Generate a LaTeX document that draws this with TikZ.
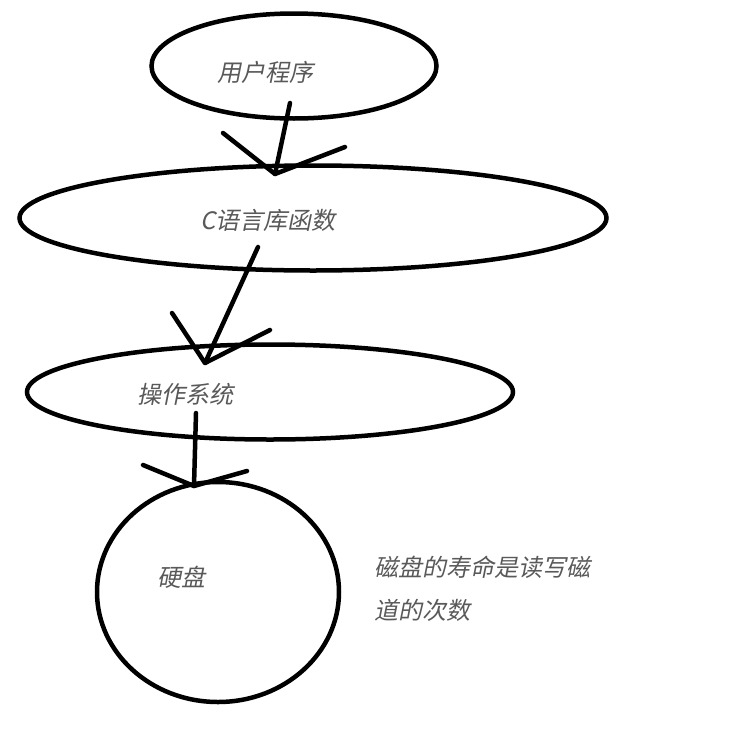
\documentclass[tikz,border=0pt]{standalone}
\usepackage{fontspec}
\usepackage{tikz}
\usetikzlibrary{shapes, positioning}
\newfontfamily\cjk[FakeSlant=0.2]{Noto Sans CJK SC}

\begin{document}
\begin{tikzpicture}[x=1pt, y=-1pt,
      blob/.style={ellipse, draw, line width=4.5pt, inner sep=0pt},
      txt/.style={anchor=west, inner sep=0pt, text=black!65, font=\cjk\fontsize{24}{43}\selectfont},
      stroke/.style={line width=4.5pt, line cap=round, line join=round}]
      \useasboundingbox (0,0) rectangle (734,744);
      \node[blob, minimum width=285pt, minimum height=105pt] (prog) at (294,66) {};
      \node[blob, minimum width=587pt, minimum height=105pt] (clib) at (313,218) {};
      \node[blob, minimum width=486pt, minimum height=95pt] (os) at (270,392) {};
      \node[blob, minimum width=242pt, minimum height=220pt] (disk) at (218,592) {};

      \node[txt] (progtxt) at (217,72) {用户程序};
      \node[txt] (clibtxt) at (200,220) {C语言库函数};
      \node[txt] (ostxt) at (137,394) {操作系统};
      \node[txt] (disktxt) at (157,577) {硬盘};
      \node[txt, align=left] (note) at (374,589) {磁盘的寿命是读写磁\\道的次数};

      % hand drawn arrows: shaft, then the two barbs
      \coordinate (s1) at (290,103); \coordinate (h1) at (275,174);
      \coordinate (l1) at (223,133); \coordinate (r1) at (345,147);
      \coordinate (s2) at (258,247); \coordinate (h2) at (205,363);
      \coordinate (l2) at (172,313); \coordinate (r2) at (270,330);
      \coordinate (s3) at (196,413); \coordinate (h3) at (194,486);
      \coordinate (l3) at (143,465); \coordinate (r3) at (247,471);
      \foreach \i in {1,2,3} {
        \draw[stroke] (s\i) -- (h\i);
        \draw[stroke] (l\i) -- (h\i) -- (r\i);
      }
\end{tikzpicture}
\end{document}
